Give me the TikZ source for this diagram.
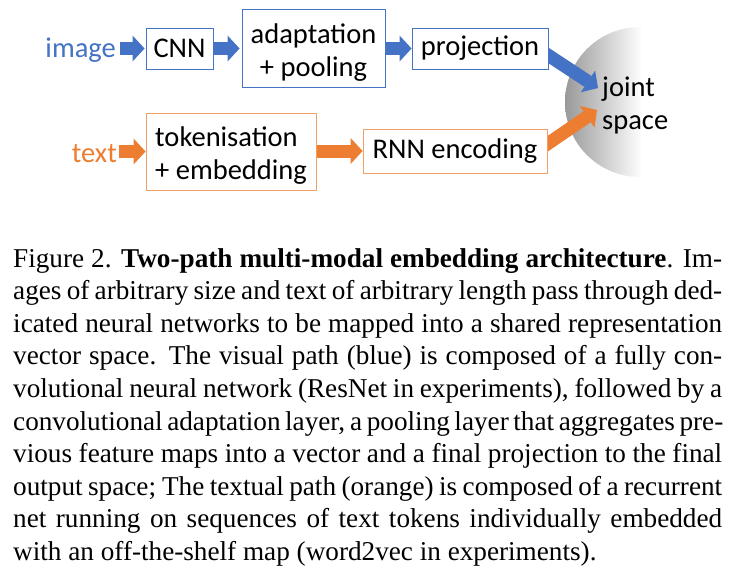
\documentclass[tikz,border=0pt]{standalone}
\usepackage{fontspec}
\setmainfont{Liberation Serif}
\newfontfamily\diafont{Carlito}
\usetikzlibrary{arrows.meta,backgrounds}
\definecolor{oblue}{HTML}{4472C4}
\definecolor{oorange}{HTML}{ED7D31}
\definecolor{lorange}{HTML}{F0A066}
\begin{document}
\begin{tikzpicture}[x=1pt,y=-1pt,
  dfont/.style={font=\diafont\fontsize{28.5}{33}\selectfont},
  box/.style={draw=#1, line width=0.9pt, fill=white, inner sep=0pt, dfont, align=center},
  flow/.style={draw=#1, line width=13pt, -{Triangle[length=12pt,width=26pt,line width=0pt]}},
  capline/.style={anchor=base west, inner sep=0pt, font=\fontsize{27.2}{32.6}\selectfont}]
\useasboundingbox (0,0) rectangle (739,574);

% boxes
\node[box=oblue, minimum width=67pt, minimum height=41pt] (cnn) at (179.5,48.5) {CNN};
\node[box=oblue, minimum width=143pt, minimum height=78pt] (adapt) at (313.5,48) {\rule{0pt}{28pt}adaptation\\+ pooling};
\node[box=oblue, minimum width=136pt, minimum height=41pt] (proj) at (480,48.5) {projection};
\node[box=lorange, minimum width=170pt, minimum height=77pt, align=left] (tok) at (231,151.5) {\rule{0pt}{28pt}tokenisation\\+ embedding};
\node[box=lorange, minimum width=184pt, minimum height=44pt] (rnn) at (455,151) {RNN encoding};

% inputs
\node[anchor=base east, inner sep=0pt, dfont, text=oblue] (image) at (116,57) {image};
\node[anchor=base east, inner sep=0pt, dfont, text=oorange] (text) at (117,162) {text};

% joint space
\node[anchor=west, inner sep=0pt, dfont, align=left] (joint) at (602,105) {joint\\space};
\coordinate (jb) at (598,88);
\coordinate (jo) at (597,110);

\begin{scope}[on background layer]
  \fill[white] (0,0) rectangle (739,574);
  \begin{scope}
    \clip (640,102) circle (75pt);
    \shade[left color=black!40, right color=white] (565,20) rectangle (642,185);
  \end{scope}
  \begin{scope}[yshift=2.5pt]
    \draw[flow=oblue, shorten >=1pt] ([xshift=4pt]image.east |- cnn.west) -- (cnn.west);
    \draw[flow=oblue, shorten >=2pt] (cnn.east) -- (adapt.west |- cnn.east);
    \draw[flow=oblue] (adapt.east |- proj.west) -- (proj.west);
  \end{scope}
  \draw[flow=oblue] ([xshift=-6pt,yshift=-3pt]proj.east) -- (jb);
  \draw[flow=oorange] ([xshift=2pt]text.east |- tok.west) -- (tok.west);
  \draw[flow=oorange] (tok.east |- rnn.west) -- (rnn.west);
  \draw[flow=oorange] ([xshift=-6pt,yshift=3pt]rnn.east) -- (jo);
\end{scope}

% caption
\node[capline] (c1) at (13,267.0) {\makebox[709pt][s]{Figure 2. \textbf{Two-path multi-modal embedding architecture}. Im-}};
\node[capline] (c2) at (13,299.6) {\makebox[709pt][s]{ages of arbitrary size and text of arbitrary length pass through ded-}};
\node[capline] (c3) at (13,332.2) {\makebox[709pt][s]{icated neural networks to be mapped into a shared representation}};
\node[capline] (c4) at (13,364.8) {\makebox[709pt][s]{vector space. The visual path (blue) is composed of a fully con-}};
\node[capline] (c5) at (13,397.4) {\makebox[709pt][s]{volutional neural network (ResNet in experiments), followed by a}};
\node[capline] (c6) at (13,430.0) {\makebox[709pt][s]{convolutional adaptation layer, a pooling layer that aggregates pre-}};
\node[capline] (c7) at (13,462.6) {\makebox[709pt][s]{vious feature maps into a vector and a final projection to the final}};
\node[capline] (c8) at (13,495.2) {\makebox[709pt][s]{output space; The textual path (orange) is composed of a recurrent}};
\node[capline] (c9) at (13,527.8) {\makebox[709pt][s]{net running on sequences of text tokens individually embedded}};
\node[capline] (c10) at (13,560.4) {with an off-the-shelf map (word2vec in experiments).};
\end{tikzpicture}
\end{document}
